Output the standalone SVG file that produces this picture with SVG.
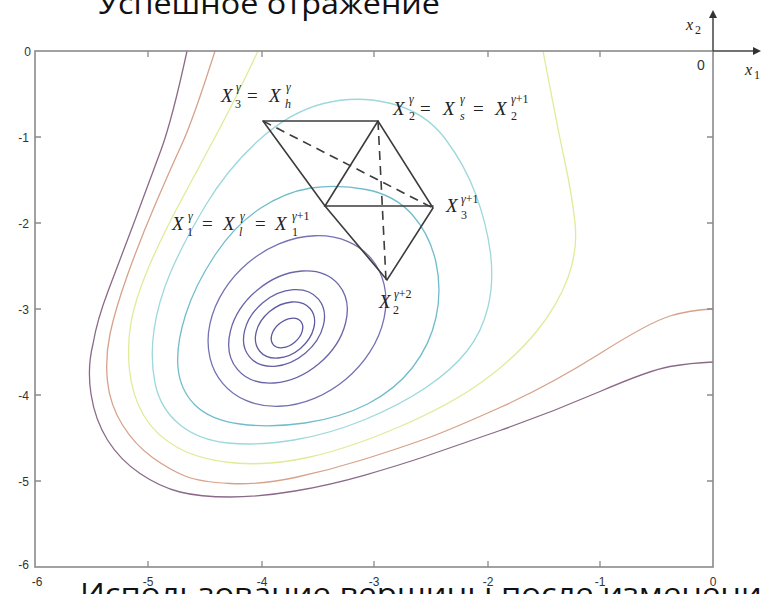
<svg xmlns="http://www.w3.org/2000/svg" width="761" height="594" viewBox="0 0 761 594">
<style>
.ax{stroke:#8a8a8a;stroke-width:1.6;fill:none}
.tk{stroke:#8a8a8a;stroke-width:1.3}
.tl{font-family:"Liberation Sans",Arial,sans-serif;font-size:12px;fill:#333}
.c{fill:none;stroke-width:1.3}
.sx{stroke:#3c3c3c;stroke-width:1.6;fill:none;stroke-linecap:round}
.ds{stroke-dasharray:9 6;stroke-linecap:butt}
.m{font-family:"Liberation Serif","Times New Roman",serif;font-size:19px;font-style:italic;fill:#222}
.s{font-family:"Liberation Serif","Times New Roman",serif;font-size:12px;fill:#222}
.si{font-style:italic}
.eq{font-family:"Liberation Serif","Times New Roman",serif;font-size:19px;fill:#222}
.big{font-family:"Open Sans","DejaVu Sans",sans-serif;font-size:30px;fill:#111}
.ar{stroke:#444;stroke-width:1.5;fill:none}
</style>
<defs>
<clipPath id="plot"><rect x="35" y="51" width="678" height="516"/></clipPath>
</defs>
<rect width="761" height="594" fill="#fff"/>

<g id="contours" clip-path="url(#plot)">
<path id="c-purple" class="c" stroke="#8a6a88" d="M187,51 Q172,120 161,150 Q150,180 135,220 Q120,260 108.5,290 Q97,320 93,344 Q87,368 91,394 Q95,420 107.5,440 Q120,460 140,473.5 Q160,487 180,492 Q200,497 230,497 Q260,497 295,491 Q330,485 365,475 Q400,465 425,456.5 Q450,448 500,430.5 Q550,413 600,391.5 Q650,370 670,366.5 Q690,363 713,362"/>
<path id="c-orange" class="c" stroke="#d6a28a" d="M215,51 Q193,120 181.5,145 Q170,170 155,205 Q140,240 127.5,275 Q115,310 110,334 Q105,358 107.5,381.5 Q110,405 122.5,425 Q135,445 152.5,457.5 Q170,470 185,476 Q200,482 230,483.5 Q260,485 295,477.5 Q330,470 365,459 Q400,448 425,439 Q450,430 500,407.5 Q550,385 600,353.5 Q650,322 670,316 Q690,310 713,309"/>
<path id="c-yellow" class="c" stroke="#e2ea98" d="M258,51 Q235,100 217.5,132.5 Q200,165 180,202.5 Q160,240 147.5,270 Q135,300 131,322.5 Q127,345 129.5,370 Q132,395 143.5,415 Q155,435 177.5,447.5 Q200,460 235,463 Q270,466 310,457 Q350,448 400,426.5 Q450,405 482.5,381.5 Q515,358 536.5,331.5 Q558,305 568,277.5 Q578,250 575,222.5 Q572,195 565,162.5 Q558,130 543,51"/>
<path id="c-lcyan" class="c" stroke="#9cd8dc" d="M323.5,103.5 Q357,95 391,103.5 Q425,112 445,138.5 Q465,165 476,195 Q487,225 490.5,253.5 Q494,282 488,307 Q482,332 467,351 Q452,370 426,387.5 Q400,405 365,419.5 Q330,434 294,440 Q258,446 228,443 Q198,440 179,424 Q160,408 155,383 Q150,358 154,330 Q158,302 170.5,272.5 Q183,243 205.5,205.5 Q228,168 259,140 Q290,112 323.5,103.5 Z"/>
<path id="c-teal" class="c" stroke="#70bccb" d="M311,188 Q337,184 366,189.5 Q395,195 412.5,215 Q430,235 436,262.5 Q442,290 436,317.5 Q430,345 412.5,367.5 Q395,390 367.5,404 Q340,418 305,423 Q270,428 240,424 Q210,420 195,405 Q180,390 178,367.5 Q176,345 185.5,315 Q195,285 215,255 Q235,225 260,208.5 Q285,192 311,188 Z"/>
<ellipse class="c" stroke="#7472b2" cx="297" cy="321" rx="97" ry="76" transform="rotate(-40 297 321)"/>
<ellipse class="c" stroke="#6a66aa" cx="288" cy="327" rx="66" ry="48" transform="rotate(-40 288 327)"/>
<ellipse class="c" stroke="#6460a6" cx="284" cy="328" rx="45" ry="33" transform="rotate(-40 284 328)"/>
<ellipse class="c" stroke="#605ca2" cx="285" cy="330" rx="33" ry="24" transform="rotate(-40 285 330)"/>
<ellipse class="c" stroke="#5c589e" cx="287" cy="333" rx="18" ry="12" transform="rotate(-40 287 333)"/>
</g>

<g id="axes">
<rect class="ax" x="35" y="51" width="678" height="516"/>
<path class="tk" d="M35,137h6M35,223h6M35,309h6M35,395h6M35,481h6M713,137h-6M713,223h-6M713,309h-6M713,395h-6M713,481h-6M148,567v-6M262,567v-6M374,567v-6M488,567v-6M600,567v-6M148,51v6M262,51v6M374,51v6M488,51v6M600,51v6"/>
<g class="tl" text-anchor="end">
<text x="31" y="56">0</text>
<text x="29" y="142">-1</text>
<text x="29" y="228">-2</text>
<text x="29" y="314">-3</text>
<text x="29" y="400">-4</text>
<text x="29" y="486">-5</text>
<text x="29" y="569">-6</text>
</g>
<g class="tl" text-anchor="middle">
<text x="37" y="586">-6</text>
<text x="148" y="586">-5</text>
<text x="262" y="586">-4</text>
<text x="374" y="586">-3</text>
<text x="488" y="586">-2</text>
<text x="600" y="586">-1</text>
<text x="713" y="586">0</text>
</g>
</g>

<g id="inset-axes">
<path class="ar" d="M713,51V17M713,51H754"/>
<path d="M713,10l-4,8h8z" fill="#333"/>
<path d="M761,51l-8,-4v8z" fill="#333"/>
<text class="m" x="686" y="30" style="font-size:16px">x</text>
<text class="s" x="695" y="34">2</text>
<text x="701" y="70" style="font-family:'Liberation Sans',Arial,sans-serif;font-size:14px;fill:#333" text-anchor="middle">0</text>
<text class="m" x="745" y="75" style="font-size:16px">x</text>
<text class="s" x="754" y="79">1</text>
</g>

<g id="simplex">
<path class="sx" d="M263,121H378L433,208L387,280L325,206L263,121"/>
<path class="sx" d="M378,121L325,206H433"/>
<path class="sx ds" d="M263,121L433,208M378,121L386,280"/>
</g>

<g id="label-x3-xh">
<text class="m" x="221" y="102">X</text>
<text class="s si" x="236" y="91">γ</text>
<text class="s" x="235" y="108">3</text>
<text class="eq" x="247" y="102">=</text>
<text class="m" x="269" y="102">X</text>
<text class="s si" x="286" y="91">γ</text>
<text class="s si" x="285" y="108">h</text>
</g>

<g id="label-x2-xs">
<text class="m" x="393" y="115">X</text>
<text class="s si" x="409" y="103">γ</text>
<text class="s" x="409" y="120">2</text>
<text class="eq" x="420" y="115">=</text>
<text class="m" x="443" y="115">X</text>
<text class="s si" x="460" y="103">γ</text>
<text class="s si" x="460" y="120">s</text>
<text class="eq" x="473" y="115">=</text>
<text class="m" x="495" y="115">X</text>
<text class="s" x="511" y="103"><tspan class="si">γ</tspan>+1</text>
<text class="s" x="511" y="120">2</text>
</g>

<g id="label-x1-xl">
<text class="m" x="172" y="230">X</text>
<text class="s si" x="188" y="220">γ</text>
<text class="s" x="187" y="236">1</text>
<text class="eq" x="202" y="230">=</text>
<text class="m" x="223" y="230">X</text>
<text class="s si" x="240" y="220">γ</text>
<text class="s si" x="239" y="236">l</text>
<text class="eq" x="255" y="230">=</text>
<text class="m" x="275" y="230">X</text>
<text class="s" x="292" y="220"><tspan class="si">γ</tspan>+1</text>
<text class="s" x="292" y="236">1</text>
</g>

<g id="label-x3-next">
<text class="m" x="446" y="212">X</text>
<text class="s" x="461" y="203"><tspan class="si">γ</tspan>+1</text>
<text class="s" x="461" y="219">3</text>
</g>

<g id="label-x2-next2">
<text class="m" x="379" y="308">X</text>
<text class="s" x="394" y="298"><tspan class="si">γ</tspan>+2</text>
<text class="s" x="393" y="314">2</text>
</g>

<text class="big" x="98" y="14" textLength="342" lengthAdjust="spacingAndGlyphs">Успешное отражение</text>
<text class="big" x="80" y="604" textLength="700" lengthAdjust="spacingAndGlyphs">Использование вершины после изменения</text>
</svg>
